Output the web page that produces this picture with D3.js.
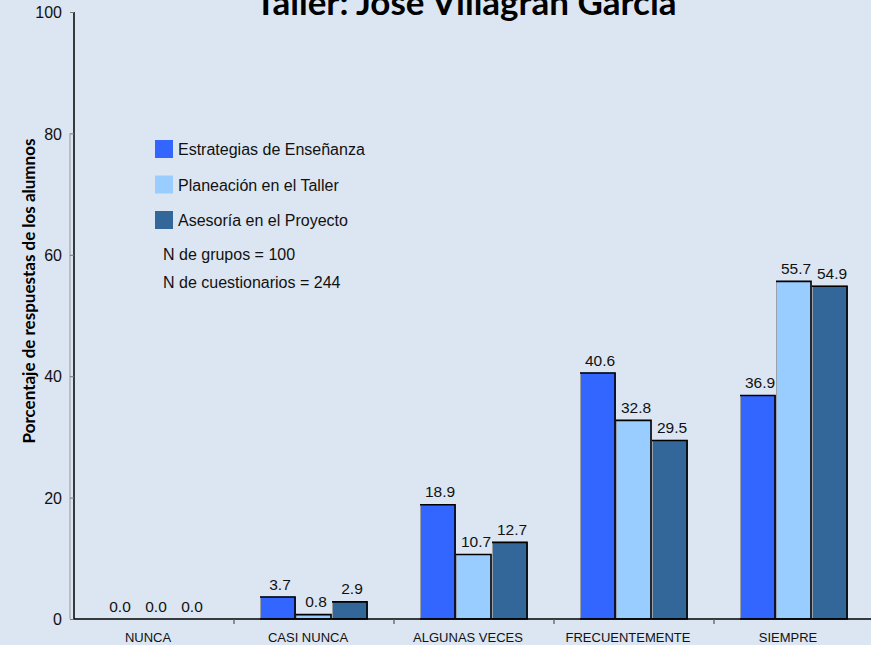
<!DOCTYPE html>
<html>
<head>
<meta charset="utf-8">
<script src="https://cdnjs.cloudflare.com/ajax/libs/d3/7.8.5/d3.min.js"></script>
<style>
  body { margin: 0; background: #dce6f2; }
  svg { display: block; font-family: "Liberation Sans", Arial, sans-serif; }
</style>
</head>
<body>
<svg width="871" height="645"></svg>
<script>
const categories = ['NUNCA', 'CASI NUNCA', 'ALGUNAS VECES', 'FRECUENTEMENTE', 'SIEMPRE'];
const seriesNames = ['Estrategias de Enseñanza', 'Planeación en el Taller', 'Asesoría en el Proyecto'];
const estrategias = [0.0, 3.7, 18.9, 40.6, 36.9];
const planeacion = [0.0, 0.8, 10.7, 32.8, 55.7];
const asesoria = [0.0, 2.9, 12.7, 29.5, 54.9];
const yTicks = [0, 20, 40, 60, 80, 100];
const notes = ['N de grupos = 100', 'N de cuestionarios = 244'];

const colors = ['#3366ff', '#99ccff', '#336699'];
const seriesValues = [estrategias, planeacion, asesoria];

let svg = d3.select('svg');

svg.append('rect')
    .attr('width', 871).attr('height', 645)
    .attr('fill', '#dce6f2');

let x0 = d3.scaleBand().domain(categories).range([74, 874]);
let x1 = d3.scaleBand().domain(d3.range(3)).range([26, 134]);
let y = d3.scaleLinear().domain([0, 100]).range([619, 12]);

// title (partly cut by the top edge, as in the original)
svg.append('text')
    .attr('x', 466).attr('y', 15)
    .attr('text-anchor', 'middle')
    .style('font-family', 'Lato, "Open Sans", sans-serif')
    .style('font-weight', 700)
    .style('font-size', '35px')
    .text('Taller: José Villagrán García');

// y axis title
svg.append('text')
    .attr('transform', 'translate(35,291) rotate(-90)')
    .attr('text-anchor', 'middle')
    .style('font-family', 'Lato, "Open Sans", sans-serif')
    .style('font-weight', 700)
    .style('font-size', '17px')
    .text('Porcentaje de respuestas de los alumnos');

// grey wall edge
svg.append('line')
    .attr('x1', 70).attr('x2', 70)
    .attr('y1', y(80)).attr('y2', y(0))
    .attr('stroke', '#999').attr('stroke-width', 1);

let yAxis = svg.append('g')
    .attr('transform', 'translate(74,0)')
    .call(d3.axisLeft(y).tickValues(yTicks).tickSize(4).tickPadding(8));
yAxis.select('.domain').attr('stroke', '#000').attr('stroke-width', 1.5).attr('d', `M0,${y(100)}V${y(0)}`);
yAxis.selectAll('.tick line').attr('stroke', '#777');
yAxis.selectAll('.tick text')
    .style('font-size', '16px')
    .attr('fill', '#111')
    .attr('dy', '0.35em');

// bars
let groups = svg.append('g').selectAll('g')
    .data(categories)
    .enter().append('g')
    .attr('transform', d => `translate(${x0(d)},0)`);

let bars = groups.selectAll('g.bar')
    .data((c, i) => seriesValues.map((vals, s) => ({ s: s, v: vals[i] })))
    .enter().append('g')
    .attr('class', 'bar');

bars.filter(d => d.v > 0).append('rect')
    .attr('x', d => x1(d.s))
    .attr('y', d => y(d.v))
    .attr('width', x1.bandwidth())
    .attr('height', d => y(0) - y(d.v))
    .attr('fill', d => colors[d.s]);

// edges: grey left, black top/right/bottom
bars.filter(d => d.v > 0).append('path')
    .attr('d', d => `M${x1(d.s) + 0.5},${y(0)}V${y(d.v) + 0.5}`)
    .attr('stroke', '#9aa0a8').attr('stroke-width', 1).attr('fill', 'none');
bars.filter(d => d.v > 0).append('path')
    .attr('d', d => `M${x1(d.s)},${y(d.v) + 0.5}H${x1(d.s) + x1.bandwidth() - 1}V${y(0)}H${x1(d.s)}`)
    .attr('stroke', '#000').attr('stroke-width', 1.6).attr('fill', 'none');

bars.append('text')
    .attr('x', d => x1(d.s) + x1.bandwidth() / 2 + 2)
    .attr('y', d => y(d.v) - 7)
    .attr('text-anchor', 'middle')
    .style('font-size', '15.5px')
    .attr('fill', '#111')
    .text(d => d.v.toFixed(1));

// x axis
let xAxis = svg.append('g')
    .attr('transform', `translate(0,${y(0)})`)
    .call(d3.axisBottom(x0).tickSize(0).tickPadding(14));
xAxis.select('.domain').attr('stroke', '#000').attr('stroke-width', 1.5).attr('d', 'M74,0H871');
xAxis.selectAll('.tick text')
    .attr('dx', -6)
    .style('font-size', '13px')
    .attr('fill', '#111');

svg.append('g').selectAll('line')
    .data(categories.slice(1))
    .enter().append('line')
    .attr('x1', d => x0(d)).attr('x2', d => x0(d))
    .attr('y1', y(0)).attr('y2', y(0) + 5)
    .attr('stroke', '#555').attr('stroke-width', 1.2);

// legend
let legend = svg.append('g')
    .attr('transform', 'translate(155,140)');

let items = legend.selectAll('g')
    .data(seriesNames)
    .enter().append('g')
    .attr('transform', (d, i) => `translate(0,${i * 35.5})`);

items.append('rect')
    .attr('width', 18).attr('height', 18)
    .attr('fill', (d, i) => colors[i]);

items.append('text')
    .attr('x', 23).attr('y', 15)
    .style('font-size', '16px')
    .attr('fill', '#111')
    .text(d => d);

legend.selectAll('text.note')
    .data(notes)
    .enter().append('text')
    .attr('class', 'note')
    .attr('x', 8)
    .attr('y', (d, i) => 120 + i * 28)
    .style('font-size', '16px')
    .attr('fill', '#111')
    .text(d => d);
</script>
</body>
</html>
